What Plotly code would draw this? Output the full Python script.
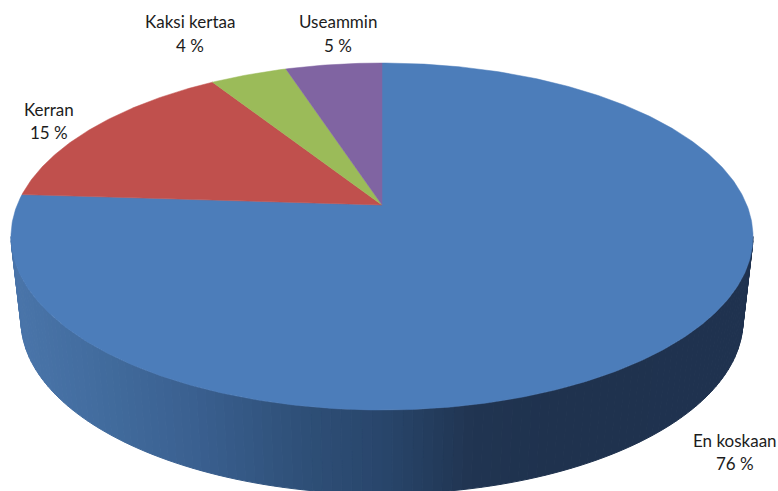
import numpy as np
import plotly.graph_objects as go

categories = ["En koskaan", "Kerran", "Kaksi kertaa", "Useammin"]
values = [76, 15, 4, 5]
slice_colors = ["#4c7dba", "#c0504d", "#9bbb59", "#8064a2"]

# label placement, in the picture's pixels (centre x, first-line y, second-line y)
label_x = [735, 49, 190, 338]
label_y1 = [440, 109, 21, 21]
label_y2 = [463, 132, 45, 45]

# wall shading: stops along x
wall_x = [11, 100, 200, 300, 382, 470, 560, 753]
wall_r = [74, 66, 58, 47, 41, 33, 31, 31]
wall_g = [117, 108, 95, 80, 70, 53, 50, 50]
wall_b = [170, 158, 143, 120, 108, 82, 78, 80]

W, H = 778, 491
CX, CY = 382, 205      # apex of the slices on the tilted disc
TOP, BOTTOM = 63, 410  # top and bottom of the disc's rim
c = (BOTTOM - 2 * CY + TOP) / (BOTTOM - TOP)
A = (CY - TOP) * (1 + c)
R = 371 * np.sqrt(1 - c * c)
WALL_SHIFT, WALL_SCALE = 84, 0.973


def rim(phi):
    """Project an angle (clockwise from 12 o'clock) onto the tilted disc."""
    d = 1 + c * np.cos(phi)
    return CX + R * np.sin(phi) / d, CY - A * np.cos(phi) / d


fig = go.Figure()

# side wall, built as narrow shaded strips
phi_ext = np.arccos(-c)
edges = np.linspace(phi_ext, 2 * np.pi - phi_ext, 121)
for a, b in zip(edges[:-1], edges[1:]):
    ph = np.linspace(a, b, 4)
    xt, yt = rim(ph)
    xb = CX + WALL_SCALE * (xt - CX)
    yb = yt + WALL_SHIFT
    xm = float(xt.mean())
    col = "rgb(%d,%d,%d)" % (
        np.interp(xm, wall_x, wall_r),
        np.interp(xm, wall_x, wall_g),
        np.interp(xm, wall_x, wall_b),
    )
    fig.add_trace(go.Scatter(
        x=np.r_[xt, xb[::-1], xt[0]], y=np.r_[yt, yb[::-1], yt[0]],
        mode="lines", fill="toself", fillcolor=col,
        line=dict(color=col, width=1), hoverinfo="skip", showlegend=False,
    ))

# top face, one wedge per category
total = sum(values)
start = 0.0
for name, v, col in zip(categories, values, slice_colors):
    sweep = 2 * np.pi * v / total
    ph = np.linspace(start, start + sweep, max(int(v * 6), 12))
    xr, yr = rim(ph)
    fig.add_trace(go.Scatter(
        x=np.r_[CX, xr, CX], y=np.r_[CY, yr, CY],
        mode="lines", fill="toself", fillcolor=col,
        line=dict(color=col, width=0.5), name=name,
        hovertemplate=f"{name}: {v} %<extra></extra>", showlegend=False,
    ))
    start += sweep

for name, v, lx, y1, y2 in zip(categories, values, label_x, label_y1, label_y2):
    for txt, yy in ((name, y1), (f"{v} %", y2)):
        fig.add_annotation(
            x=lx, y=yy, text=txt, showarrow=False, xanchor="center", yanchor="middle",
            font=dict(family="Lato, Carlito, sans-serif", size=17, color="#1c1c1c"),
        )

fig.update_layout(
    width=W, height=H, margin=dict(l=0, r=0, t=0, b=0),
    paper_bgcolor="white", plot_bgcolor="white", showlegend=False,
    xaxis=dict(range=[0, W], visible=False, fixedrange=True),
    yaxis=dict(range=[H, 0], visible=False, fixedrange=True),
)
fig.write_html(
    "out.html",
    config={"displayModeBar": False},
    post_script="document.body.style.margin='0';document.body.style.overflow='hidden';",
)
